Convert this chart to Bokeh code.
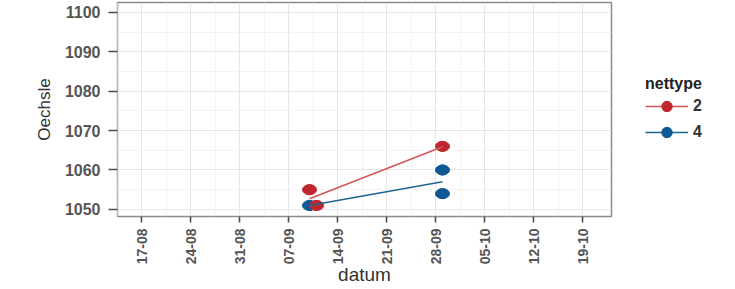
import math
import datetime as dt
from bokeh.plotting import figure
from bokeh.models import (Range1d, FixedTicker, DatetimeTickFormatter, Legend,
                          LegendItem, ColumnDataSource)
from bokeh.embed import file_html
from bokeh.resources import INLINE

YEAR = 2015

# ---- data ----
tick_labels = ["17-08", "24-08", "31-08", "07-09", "14-09", "21-09",
               "28-09", "05-10", "12-10", "19-10"]
y_ticks = [1050, 1060, 1070, 1080, 1090, 1100]

red_dates = ["10-09", "11-09", "29-09"]
red_values = [1055, 1051, 1066]
blue_dates = ["10-09", "29-09", "29-09"]
blue_values = [1051, 1060, 1054]

red_fit_dates = ["10-09", "29-09"]
red_fit_values = [1052.7, 1065.9]
blue_fit_dates = ["10-09", "29-09"]
blue_fit_values = [1051.0, 1057.0]

series_labels = ["2", "4"]
RED = "#C0262D"
BLUE = "#0F5896"


def d(s):
    return dt.datetime.strptime(f"{s}-{YEAR}", "%d-%m-%Y")


EPOCH = dt.datetime(1970, 1, 1)


def ms(x):
    return (x - EPOCH).total_seconds() * 1000.0


tick_dates = [d(t) for t in tick_labels]
major = [ms(t) for t in tick_dates]
minor = [(a + b) / 2 for a, b in zip(major[:-1], major[1:])]
minor = [major[0] - (major[1] - major[0]) / 2] + minor

x_start = tick_dates[0] - dt.timedelta(days=3.43)
x_end = tick_dates[-1] + dt.timedelta(days=4.14)

p = figure(frame_width=494, frame_height=214, x_axis_type="datetime",
           output_backend="svg", toolbar_location=None,
           x_range=Range1d(x_start, x_end),
           y_range=Range1d(1048.2, 1102.5),
           min_border_left=117, min_border_right=124,
           min_border_top=2, min_border_bottom=73)

p.background_fill_color = "white"
p.border_fill_color = "white"
p.outline_line_color = "#8a8a8a"
p.outline_line_width = 1.5

# grid
p.xgrid.ticker = FixedTicker(ticks=major, minor_ticks=minor)
p.xgrid.grid_line_color = "#e6e6e6"
p.xgrid.minor_grid_line_color = "#f3f3f3"
p.ygrid.grid_line_color = "#e6e6e6"
p.ygrid.minor_grid_line_color = "#f3f3f3"

# axes
p.xaxis.ticker = FixedTicker(ticks=major, minor_ticks=[])
fmt = "%d-%m"
p.xaxis.formatter = DatetimeTickFormatter(
    milliseconds=fmt, seconds=fmt, minsec=fmt, minutes=fmt, hourmin=fmt,
    hours=fmt, days=fmt, months=fmt, years=fmt)
p.xaxis.major_label_orientation = math.pi / 2
p.yaxis.ticker = FixedTicker(ticks=y_ticks,
                             minor_ticks=[v + 5 for v in y_ticks[:-1]])

for ax in (p.xaxis, p.yaxis):
    ax.axis_line_color = None
    ax.major_tick_line_color = "#4d4d4d"
    ax.major_tick_line_width = 1.6
    ax.major_tick_in = 0
    ax.minor_tick_line_color = None
    ax.major_label_text_font = "Liberation Sans"
    ax.major_label_text_font_style = "bold"
    ax.major_label_text_color = "#555555"
    ax.axis_label_text_font = "Liberation Sans"
    ax.axis_label_text_font_style = "normal"
    ax.axis_label_text_color = "#333333"

p.xaxis.major_tick_out = 6
p.xaxis.major_label_standoff = 6
p.xaxis.major_label_text_font_size = "14px"
p.yaxis.major_tick_out = 9
p.yaxis.major_label_standoff = 8
p.yaxis.major_label_text_font_size = "16px"

p.xaxis.axis_label = "datum"
p.xaxis.axis_label_text_font_size = "19px"
p.xaxis.axis_label_standoff = -3
p.yaxis.axis_label = "Oechsle"
p.yaxis.axis_label_text_font_size = "17px"
p.yaxis.axis_label_standoff = 8

# data
blue_src = ColumnDataSource(dict(x=[d(s) for s in blue_dates], y=blue_values))
red_src = ColumnDataSource(dict(x=[d(s) for s in red_dates], y=red_values))
# round markers (used for the legend keys), covered by the wider ellipses
blue_key = p.scatter("x", "y", source=blue_src, size=10, fill_color=BLUE,
                     line_color=BLUE)
red_key = p.scatter("x", "y", source=red_src, size=10, fill_color=RED,
                    line_color=RED)
blue_pts = p.ellipse("x", "y", source=blue_src, width=14, height=10,
                     width_units="screen", height_units="screen",
                     fill_color=BLUE, line_color=BLUE)
red_pts = p.ellipse("x", "y", source=red_src, width=14, height=10,
                    width_units="screen", height_units="screen",
                    fill_color=RED, line_color=RED)
blue_line = p.line([d(s) for s in blue_fit_dates], blue_fit_values,
                   line_color="#1E6691", line_width=1.6)
red_line = p.line([d(s) for s in red_fit_dates], red_fit_values,
                  line_color="#D2575C", line_width=1.6)

legend = Legend(items=[LegendItem(label=series_labels[0],
                                  renderers=[red_line, red_key]),
                       LegendItem(label=series_labels[1],
                                  renderers=[blue_line, blue_key])],
                location=(34, 71))
legend.title = "nettype"
legend.title_text_font = "Liberation Sans"
legend.title_text_font_style = "bold"
legend.title_text_font_size = "16px"
legend.title_text_color = "#222222"
legend.title_standoff = 0
legend.label_text_font = "Liberation Sans"
legend.label_text_font_style = "bold"
legend.label_text_font_size = "16px"
legend.label_text_color = "#333333"
legend.label_height = 26
legend.glyph_width = 43
legend.glyph_height = 26
legend.spacing = 0
legend.label_standoff = 5
legend.padding = 0
legend.margin = 0
legend.border_line_color = None
legend.background_fill_alpha = 0
p.add_layout(legend, "right")

open("out.html", "w").write(file_html(p, INLINE))
